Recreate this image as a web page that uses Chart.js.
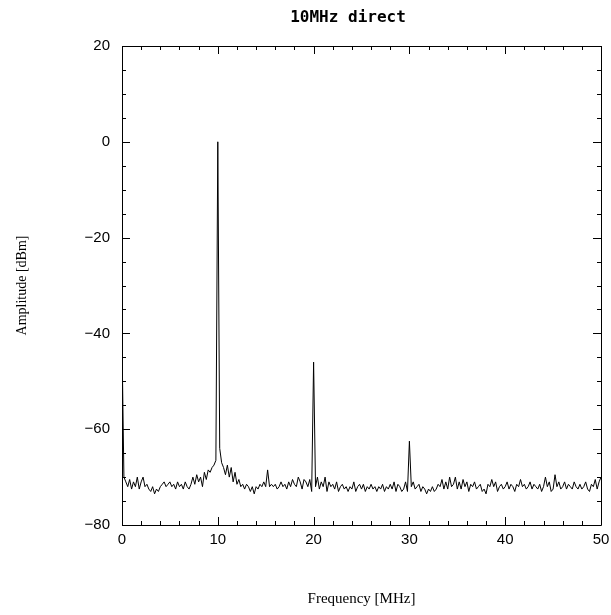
<!DOCTYPE html>
<html>
<head>
<meta charset="utf-8">
<script src="https://cdn.jsdelivr.net/npm/chart.js@4/dist/chart.umd.min.js"></script>
<style>
html,body{margin:0;padding:0;background:#fff;}
#wrap{width:611px;height:615px;position:relative;}
</style>
</head>
<body>
<div id="wrap"><canvas id="c" width="611" height="615"></canvas></div>
<script>
const titleText = "10MHz direct";
const xTitle = "Frequency [MHz]";
const yTitle = "Amplitude [dBm]";
const freqStep = 0.2; // MHz between samples
const xTickValues = [0, 10, 20, 30, 40, 50];
const yTickValues = [-80, -60, -40, -20, 0, 20];
const xMinorStep = 2;
const yMinorStep = 5;

// amplitude readings [dBm], one per 0.2 MHz from 0 to 50 MHz
const amplitude = [
  -42, -70, -71, -72, -70.5, -72.5, -71, -72, -70, -72.5,          // 0-2
  -71, -70, -72, -71.5, -72.5, -73, -72, -73.5, -72.5, -73,        // 2-4
  -72, -71.5, -71, -72, -71.5, -71, -72, -71.5, -72.5, -71,        // 4-6
  -72, -71.5, -72.5, -71, -72, -72.5, -71.5, -70, -71.5, -69.5,    // 6-8
  -71, -70, -72, -69, -70.5, -68.5, -69, -68, -67.5, -66.5,        // 8-10
  0, -64, -67, -68, -69.5, -67.5, -70, -68, -71, -69,              // 10-12
  -71.5, -70.5, -72, -71.5, -72.5, -71.5, -72, -73, -72, -73.5,    // 12-14
  -72, -72.5, -71.5, -72, -71, -72, -68.5, -72, -71.5, -72,        // 14-16
  -71.5, -72.5, -72, -71, -72, -71.5, -72.5, -71, -72, -70.5,      // 16-18
  -71.5, -72, -70, -71, -72.5, -70.5, -71, -72, -70.5, -73,        // 18-20
  -46, -72, -70, -72.5, -71, -72, -70, -73, -71, -72,              // 20-22
  -71.5, -72.5, -71, -73, -72, -71.5, -72.5, -72, -73, -72,        // 22-24
  -72.5, -71, -73, -72, -71.5, -72.5, -71.5, -73, -72, -72.5,      // 24-26
  -71.5, -72.5, -72, -73, -72, -72.5, -71.5, -73, -72, -72.5,      // 26-28
  -71.5, -72.5, -71, -73, -71.5, -72, -73, -72.5, -71, -73,        // 28-30
  -62.5, -72, -71, -72.5, -72, -71.5, -73, -72, -72.5, -73.5,      // 30-32
  -72.5, -73, -72, -73, -72.5, -71.5, -72, -70.5, -72.5, -71,      // 32-34
  -72.5, -70, -72, -71.5, -70, -72.5, -71, -72.5, -70.5, -72,      // 34-36
  -71, -73, -71.5, -72, -71, -72.5, -72, -71.5, -73, -72.5,        // 36-38
  -73.5, -71.5, -72, -70.5, -72, -71, -73, -72, -71.5, -72.5,      // 38-40
  -72, -71, -72.5, -71.5, -72, -73, -71.5, -72, -70.5, -72,        // 40-42
  -71.5, -72.5, -72, -71, -72.5, -71.5, -72, -72.5, -71.5, -73,    // 42-44
  -72, -70, -72, -71, -73, -72.5, -69.5, -72, -71, -72.5,          // 44-46
  -72, -71, -72.5, -71.5, -72, -72.5, -71, -72, -72.5, -71.5,      // 46-48
  -72.5, -72, -71, -72.5, -73, -71.5, -72, -70.5, -72.5, -71, -70  // 48-50
];
const frequency = amplitude.map((_, i) => +(i * freqStep).toFixed(2));

const tickFont = {family: "'Liberation Sans', Arial, sans-serif", size: 15};
const titleFontFamily = "'Liberation Serif', 'Times New Roman', serif";

const frameTicks = {
  id: 'frameTicks',
  afterDraw(chart) {
    const {ctx, chartArea: a, scales} = chart;
    const xs = scales.x, ys = scales.y;
    ctx.save();
    // chart title
    ctx.fillStyle = '#000';
    ctx.font = "bold 16px 'DejaVu Sans Mono', monospace";
    ctx.textAlign = 'center';
    ctx.textBaseline = 'middle';
    ctx.fillText(titleText, 348, 18);
    // frame and inward ticks
    ctx.strokeStyle = '#000';
    ctx.lineWidth = 1;
    ctx.beginPath();
    ctx.rect(Math.round(a.left) + 0.5, Math.round(a.top) + 0.5,
             Math.round(a.right - a.left), Math.round(a.bottom - a.top));
    ctx.stroke();
    ctx.beginPath();
    for (let v = xs.min; v <= xs.max + 1e-9; v += xMinorStep) {
      const len = xTickValues.includes(v) ? 8 : 4;
      const px = Math.round(xs.getPixelForValue(v)) + 0.5;
      ctx.moveTo(px, a.bottom); ctx.lineTo(px, a.bottom - len);
      ctx.moveTo(px, a.top); ctx.lineTo(px, a.top + len);
    }
    for (let v = ys.min; v <= ys.max + 1e-9; v += yMinorStep) {
      const len = yTickValues.includes(v) ? 8 : 4;
      const py = Math.round(ys.getPixelForValue(v)) + 0.5;
      ctx.moveTo(a.left, py); ctx.lineTo(a.left + len, py);
      ctx.moveTo(a.right, py); ctx.lineTo(a.right - len, py);
    }
    ctx.stroke();
    ctx.restore();
  }
};

new Chart(document.getElementById('c'), {
  type: 'line',
  data: {
    datasets: [{
      data: frequency.map((f, i) => ({x: f, y: amplitude[i]})),
      borderColor: '#000',
      borderWidth: 1,
      pointRadius: 0,
      tension: 0,
      fill: false
    }]
  },
  options: {
    responsive: false,
    animation: false,
    layout: {padding: {left: 0, right: 10, top: 46, bottom: 0}},
    plugins: {
      legend: {display: false},
      tooltip: {enabled: false},
      title: {display: false}
    },
    scales: {
      x: {
        type: 'linear',
        min: 0, max: 50,
        afterFit(s) { s.height = 90; s.paddingLeft = 0; s.paddingRight = 0; },
        afterBuildTicks(s) { s.ticks = xTickValues.map(v => ({value: v})); },
        ticks: {color: '#000', font: tickFont, padding: 6, maxRotation: 0},
        grid: {display: false, drawTicks: false},
        border: {display: false},
        title: {display: true, text: xTitle, color: '#000',
                font: {family: titleFontFamily, size: 15}, padding: {top: 0, bottom: 7}}
      },
      y: {
        type: 'linear',
        min: -80, max: 20,
        afterFit(s) { s.width = 122; s.paddingTop = 0; s.paddingBottom = 0; },
        afterBuildTicks(s) { s.ticks = yTickValues.map(v => ({value: v})); },
        ticks: {color: '#000', font: tickFont, padding: 12,
                callback: v => (v < 0 ? '\u2212' + Math.abs(v) : String(v))},
        grid: {display: false, drawTicks: false},
        border: {display: false},
        title: {display: true, text: yTitle, color: '#000',
                font: {family: titleFontFamily, size: 14}, padding: {top: 13.6, bottom: 0}}
      }
    }
  },
  plugins: [frameTicks]
});
</script>
</body>
</html>
